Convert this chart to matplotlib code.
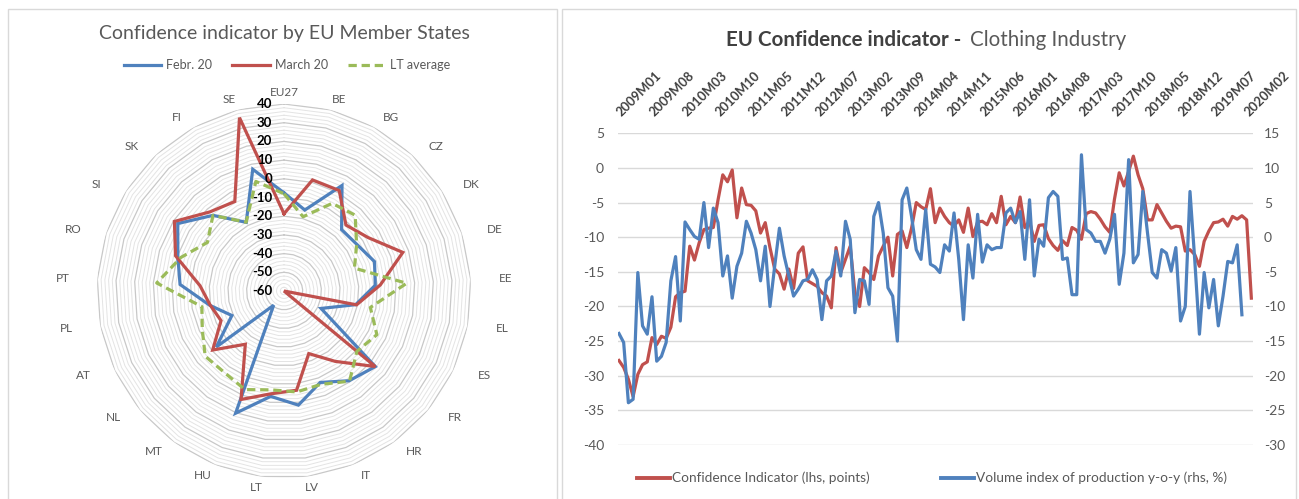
import numpy as np
import matplotlib
matplotlib.use("Agg")
import matplotlib.pyplot as plt
from matplotlib.lines import Line2D
from matplotlib.patches import Rectangle

plt.rcParams['font.family'] = ['Lato', 'DejaVu Sans']
plt.rcParams['axes.unicode_minus'] = False

# ---------------- Radar data ----------------
countries = ['EU27', 'BE', 'BG', 'CZ', 'DK', 'DE', 'EE', 'EL', 'ES', 'FR', 'HR', 'IT', 'LV',
             'LT', 'HU', 'MT', 'NL', 'AT', 'PL', 'PT', 'RO', 'SI', 'SK', 'FI', 'SE']
feb20 = [-7.5, -15.3, 4.4, -15.0, -13.7, -9.1, -11.1, -21.0, -38.1, 3.4, -0.7, -7.4, 1.5,
         -3.2, 10.3, -50.6, -13.0, -29.2, -19.5, -4.3, -0.3, 7.3, -4.5, -18.1, 7.2]
march20 = [-18.7, 1.3, 1.3, -11.6, -6.7, 6.8, -8.4, -20.5, -60.0, 3.4, -13.5, -24.0, -6.5,
           -4.6, 2.4, -24.8, -10.5, -22.8, -19.8, -15.0, 1.0, 9.4, -2.0, -5.4, 35.7]
lt_average = [-8.0, -19.0, -6.5, -4.4, -14.0, -20.4, 5.7, -13.0, -5.1, -9.4, -0.4, -6.3, -5.6,
              -6.7, -3.3, -6.0, -5.3, -11.7, -15.3, 8.2, -2.0, -11.5, -4.5, -18.0, 0.5]
radar_ticks = [40, 30, 20, 10, 0, -10, -20, -30, -40, -50, -60]

# ---------------- Time series data ----------------
confidence = [
    -27.8, -28.8, -30.5, -33.0, -29.8, -28.4, -28.0, -24.5, -25.5, -24.3,
    -24.6, -23.0, -18.6, -18.0, -17.8, -11.3, -13.3, -10.8, -8.9, -8.7,
    -8.6, -4.6, -1.0, -2.0, -0.3, -7.2, -2.9, -5.3, -5.4, -6.2,
    -9.4, -7.9, -11.5, -14.6, -15.3, -17.5, -14.6, -17.4, -12.3, -11.4,
    -16.3, -16.7, -17.1, -18.0, -18.5, -20.2, -11.5, -15.1, -13.2, -11.3,
    -18.0, -20.0, -14.4, -15.1, -16.1, -12.7, -11.3, -10.0, -15.6, -9.6,
    -9.1, -11.5, -8.7, -5.0, -5.6, -6.0, -3.0, -7.9, -5.8, -7.0,
    -7.9, -8.4, -7.5, -9.3, -5.8, -9.9, -7.8, -7.7, -8.2, -6.6,
    -7.9, -4.1, -8.2, -7.0, -7.9, -4.2, -8.6, -7.7, -10.6, -8.3,
    -8.2, -10.2, -11.2, -11.9, -10.5, -11.2, -8.6, -9.0, -10.3, -6.6,
    -6.3, -6.5, -7.4, -8.5, -9.3, -4.5, -0.7, -2.6, -0.5, 1.7,
    -1.0, -3.0, -7.5, -7.5, -5.3, -6.5, -7.7, -8.7, -8.4, -8.5,
    -12.0, -11.8, -12.5, -14.2, -10.6, -9.1, -7.9, -7.8, -7.4, -8.4,
    -7.0, -7.4, -6.9, -7.5, -18.8]
production = [
    -13.9, -15.2, -23.9, -23.4, -5.1, -12.8, -14.0, -8.6, -17.9, -17.2,
    -15.2, -6.3, -2.8, -12.1, 2.2, 1.1, 0.1, -0.3, 5.0, -1.5,
    4.2, 2.1, -5.6, -2.7, -8.8, -4.2, -2.3, 2.3, 0.6, -1.8,
    -6.3, -1.3, -10.0, -4.2, 1.3, -2.7, -5.6, -8.5, -7.5, -6.3,
    -6.1, -4.7, -6.1, -11.9, -6.3, -5.6, -2.0, -5.6, 2.3, -0.3,
    -10.9, -6.1, -6.3, -9.7, 3.0, 5.0, 0.6, -7.3, -8.5, -15.0,
    5.4, 7.1, 3.0, -1.8, -3.2, 4.0, -3.9, -4.3, -5.1, -1.1,
    -2.0, 3.5, -3.2, -11.9, -1.1, -5.9, 3.3, -3.6, -1.1, -1.8,
    -1.5, -1.5, 3.5, 4.2, 2.1, 3.7, -3.2, 5.4, -5.6, -0.3,
    -1.3, 5.7, 6.6, 5.9, -3.2, -3.0, -8.3, -8.3, 11.9, 1.1,
    0.6, -0.6, -0.6, -2.3, -0.3, 3.3, -6.8, -2.3, 11.2, -3.7,
    -2.5, 6.6, 0.6, -5.1, -5.9, -1.8, -2.3, -4.9, -1.5, -12.1,
    -10.0, 6.6, -3.2, -14.0, -5.1, -10.2, -6.1, -12.8, -8.5, -3.5,
    -3.7, -1.1, -11.2]
months = [f"{2009 + k // 12}M{k % 12 + 1:02d}" for k in range(len(confidence))]
tick_labels = ['2009M01', '2009M08', '2010M03', '2010M10', '2011M05', '2011M12', '2012M07',
               '2013M02', '2013M09', '2014M04', '2014M11', '2015M06', '2016M01', '2016M08',
               '2017M03', '2017M10', '2018M05', '2018M12', '2019M07', '2020M02']
lhs_ticks = [5, 0, -5, -10, -15, -20, -25, -30, -35, -40]
rhs_ticks = [15, 10, 5, 0, -5, -10, -15, -20, -25, -30]

RED = '#C0504D'
BLUE = '#4F81BD'
GREEN = '#9BBB59'
GREY = '#595959'

W, H = 1299, 499
fig = plt.figure(figsize=(W / 100, H / 100), dpi=100)
fig.patch.set_facecolor('white')

# panel frames
fig.add_artist(Rectangle((8 / W, -0.02), (557 - 8) / W, 1 - 9 / H + 0.02, transform=fig.transFigure,
                         fill=False, edgecolor='#D9D9D9', lw=1))
fig.add_artist(Rectangle((562 / W, -0.02), (1296 - 562) / W, 1 - 9 / H + 0.02, transform=fig.transFigure,
                         fill=False, edgecolor='#D9D9D9', lw=1))

# ---------------- Radar chart ----------------
cx, cy, R = 284, 291, 187
axr = fig.add_axes([(cx - R) / W, 1 - (cy + R) / H, 2 * R / W, 2 * R / H], projection='polar')
axr.set_theta_zero_location('N')
axr.set_theta_direction(-1)
axr.set_ylim(-60, 40)
axr.grid(False)
axr.spines['polar'].set_visible(False)
axr.set_xticks([])
axr.set_yticks([])
axr.patch.set_alpha(0)

n = len(countries)
theta = np.arange(n) * 2 * np.pi / n
th_c = np.append(theta, theta[0])
for v in range(-58, 41, 2):
    major = (v % 10 == 0)
    axr.plot(th_c, [v] * (n + 1), color='#C8C8C8' if major else '#E4E4E4',
             lw=0.9 if major else 0.7, zorder=1)


def closed(vals):
    return np.append(vals, vals[0])


axr.plot(th_c, closed(feb20), color=BLUE, lw=2.3, zorder=3, solid_joinstyle='miter')
axr.plot(th_c, closed(march20), color=RED, lw=2.3, zorder=4, solid_joinstyle='miter')
axr.plot(th_c, closed(lt_average), color=GREEN, lw=2.3, zorder=5, dashes=(2.6, 1.5),
         dash_capstyle='butt')

# category labels placed on an ellipse around the radar (pixel offsets from centre)
for t, name in zip(theta, countries):
    ox, oy = 222 * np.sin(t), 198 * np.cos(t)
    fig.text((cx + ox) / W, 1 - (cy - oy) / H, name, ha='center', va='center',
             fontsize=8.5, color=GREY)

for v in radar_ticks:
    axr.annotate(str(v), xy=(0, v), xytext=(-8.5, 0), textcoords='offset points',
                 ha='right', va='center', fontsize=9.5, fontweight='bold', color='black',
                 zorder=10, annotation_clip=False)

fig.text(284 / W, 1 - 33 / H, 'Confidence indicator by EU Member States', ha='center',
         va='center', fontsize=14, color=GREY)
h1 = [Line2D([], [], color=BLUE, lw=2.3), Line2D([], [], color=RED, lw=2.3),
      Line2D([], [], color=GREEN, lw=2.3, dashes=(2.6, 1.5))]
fig.legend(h1, ['Febr. 20', 'March 20', 'LT average'], loc='center',
           bbox_to_anchor=(287 / W, 1 - 65 / H), ncol=3, frameon=False, fontsize=9,
           labelcolor=GREY, handlelength=3.0, handletextpad=0.4, columnspacing=1.6)

# ---------------- Time series chart ----------------
x0, x1, ytop, ybot = 618, 1253, 133.3, 445
ax = fig.add_axes([x0 / W, 1 - ybot / H, (x1 - x0) / W, (ybot - ytop) / H])
x = np.arange(len(confidence))
ax.plot(x, confidence, color=RED, lw=2.3, zorder=3)
ax.set_xlim(-0.2, len(confidence) - 1 + 0.35)
ax.set_ylim(-40, 5)
ax.set_yticks(lhs_ticks)
ax.set_yticklabels([str(t) for t in lhs_ticks])
ax.grid(axis='y', color='#D9D9D9', lw=1)
ax.set_axisbelow(True)
for s in ax.spines.values():
    s.set_visible(False)
ax.tick_params(axis='y', length=0, pad=10, labelcolor=GREY, labelsize=10)
ax.xaxis.tick_top()
ax.set_xticks([months.index(t) for t in tick_labels])
ax.set_xticklabels(tick_labels, rotation=45, ha='left', va='center', rotation_mode='anchor',
                   fontweight='bold', color='#404040', fontsize=9.3)
ax.tick_params(axis='x', length=0, pad=14)

ax3 = ax.twinx()
ax3.plot(np.arange(len(production)), production, color=BLUE, lw=2.3, zorder=3)
ax3.set_ylim(-30, 15)
ax3.set_yticks(rhs_ticks)
ax3.set_yticklabels([str(t) for t in rhs_ticks])
for s in ax3.spines.values():
    s.set_visible(False)
ax3.tick_params(axis='y', length=0, pad=8, labelcolor=GREY, labelsize=10)

fig.text(966 / W, 1 - 40 / H, 'EU Confidence indicator - ', ha='right', va='center',
         fontsize=14.8, fontweight='bold', color='#404040')
fig.text(970 / W, 1 - 40 / H, 'Clothing Industry', ha='left', va='center',
         fontsize=14.8, color=GREY)

h2 = [Line2D([], [], color=RED, lw=2.8), Line2D([], [], color=BLUE, lw=2.8)]
fig.legend(h2, ['Confidence Indicator (lhs, points)', 'Volume index of production y-o-y (rhs, %)'],
           loc='center', bbox_to_anchor=(932 / W, 1 - 478 / H), ncol=2, frameon=False,
           fontsize=9.8, labelcolor=GREY, handlelength=2.4, handletextpad=0.15,
           columnspacing=5.3)

fig.savefig('out.png', dpi=100, facecolor='white')
